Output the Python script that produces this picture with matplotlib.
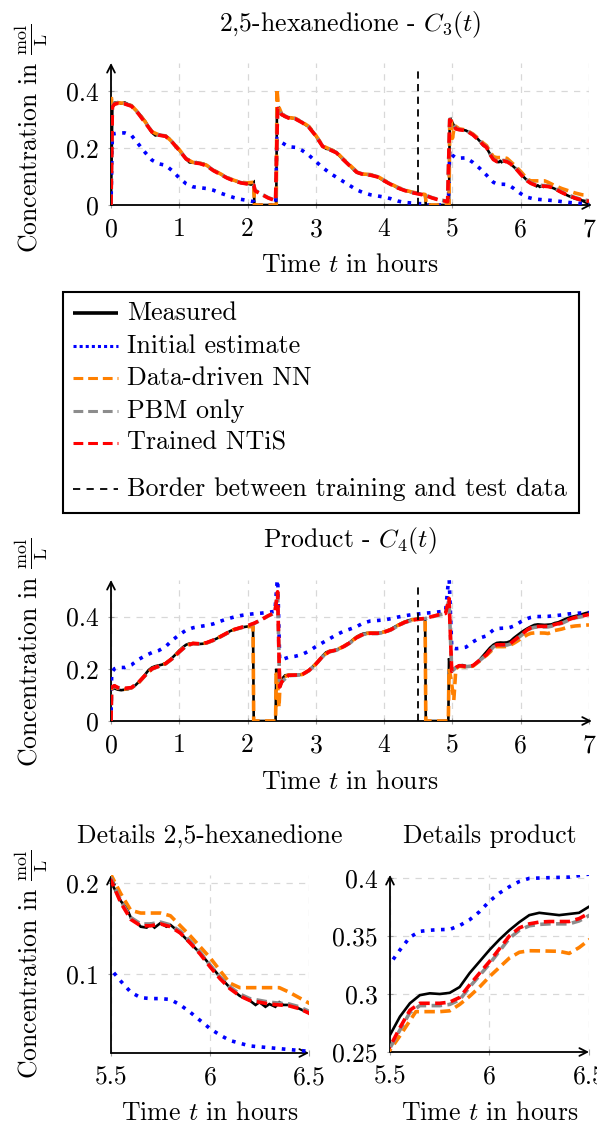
import matplotlib
matplotlib.use("Agg")
import matplotlib.pyplot as plt
from matplotlib.lines import Line2D
from matplotlib.patches import Rectangle
import numpy as np

plt.rcParams['font.family'] = 'serif'
plt.rcParams['font.serif'] = ['cmr10']
plt.rcParams['mathtext.fontset'] = 'cm'
plt.rcParams['axes.formatter.use_mathtext'] = True
plt.rcParams['axes.unicode_minus'] = False

FS = 18.5
LFS = 18.8

# ---------------- data: C3 (2,5-hexanedione) ----------------
c3_measured = [(0.00, 0.0), (0.02, 0.345), (0.05, 0.36), (0.1, 0.362), (0.15, 0.357), (0.2, 0.361),
               (0.25, 0.355), (0.3, 0.35), (0.35, 0.336), (0.4, 0.325), (0.45, 0.31), (0.5, 0.295),
               (0.55, 0.275), (0.6, 0.255), (0.65, 0.245), (0.7, 0.248), (0.75, 0.244), (0.8, 0.243),
               (0.85, 0.235), (0.9, 0.22), (0.95, 0.205), (1.0, 0.193), (1.05, 0.178), (1.1, 0.162),
               (1.15, 0.15), (1.2, 0.149), (1.25, 0.151), (1.3, 0.147), (1.35, 0.146), (1.4, 0.14),
               (1.45, 0.13), (1.5, 0.122), (1.55, 0.117), (1.6, 0.11), (1.65, 0.102), (1.7, 0.096),
               (1.75, 0.09), (1.8, 0.087), (1.85, 0.082), (1.9, 0.078), (1.95, 0.077), (2.0, 0.075),
               (2.05, 0.072), (2.09, 0.08), (2.1, 0.0), (2.42, 0.0), (2.43, 0.33), (2.46, 0.34),
               (2.5, 0.318), (2.55, 0.31), (2.6, 0.309), (2.65, 0.306), (2.7, 0.304), (2.75, 0.298),
               (2.8, 0.29), (2.85, 0.282), (2.9, 0.275), (2.95, 0.26), (3.0, 0.243), (3.05, 0.225),
               (3.1, 0.207), (3.15, 0.198), (3.2, 0.196), (3.25, 0.193), (3.3, 0.185), (3.35, 0.172),
               (3.4, 0.16), (3.45, 0.15), (3.5, 0.138), (3.55, 0.125), (3.6, 0.115), (3.65, 0.11),
               (3.7, 0.108), (3.75, 0.107), (3.8, 0.106), (3.85, 0.103), (3.9, 0.1), (3.95, 0.092),
               (4.0, 0.085), (4.05, 0.078), (4.1, 0.073), (4.15, 0.067), (4.2, 0.06), (4.25, 0.055),
               (4.3, 0.052), (4.35, 0.048), (4.4, 0.045), (4.45, 0.042), (4.5, 0.04), (4.55, 0.037),
               (4.6, 0.035), (4.61, 0.0), (4.95, 0.0), (4.96, 0.29), (4.98, 0.30), (5.02, 0.28),
               (5.06, 0.268), (5.1, 0.266), (5.15, 0.265), (5.2, 0.262), (5.25, 0.255), (5.3, 0.247),
               (5.35, 0.238), (5.4, 0.225), (5.45, 0.21), (5.5, 0.201), (5.55, 0.18), (5.58, 0.172),
               (5.6, 0.162), (5.63, 0.157), (5.65, 0.152), (5.68, 0.151), (5.7, 0.155), (5.72, 0.151),
               (5.75, 0.156), (5.78, 0.152), (5.8, 0.154), (5.85, 0.145), (5.9, 0.134), (5.95, 0.123),
               (6.0, 0.11), (6.05, 0.097), (6.1, 0.085), (6.15, 0.076), (6.2, 0.071), (6.23, 0.066),
               (6.25, 0.069), (6.28, 0.064), (6.3, 0.067), (6.33, 0.064), (6.35, 0.069), (6.37, 0.066),
               (6.4, 0.066), (6.43, 0.064), (6.45, 0.062), (6.5, 0.057), (6.55, 0.05), (6.6, 0.044),
               (6.65, 0.038), (6.7, 0.032), (6.75, 0.027), (6.8, 0.022), (6.85, 0.019), (6.9, 0.016),
               (6.95, 0.014), (7.0, 0.013)]

c3_initial = [(0.0, 0.0), (0.02, 0.25), (0.1, 0.253), (0.2, 0.254), (0.3, 0.245), (0.4, 0.215),
              (0.5, 0.185), (0.6, 0.158), (0.7, 0.145), (0.8, 0.14), (0.9, 0.12), (1.0, 0.095),
              (1.1, 0.075), (1.2, 0.064), (1.3, 0.061), (1.4, 0.058), (1.5, 0.052), (1.6, 0.042),
              (1.7, 0.034), (1.8, 0.026), (1.9, 0.02), (2.0, 0.016), (2.09, 0.012), (2.11, 0.0),
              (2.41, 0.0), (2.43, 0.235), (2.5, 0.22), (2.6, 0.205), (2.7, 0.203), (2.8, 0.192),
              (2.9, 0.175), (3.0, 0.153), (3.1, 0.132), (3.2, 0.113), (3.3, 0.098), (3.4, 0.083),
              (3.5, 0.068), (3.6, 0.053), (3.7, 0.043), (3.8, 0.036), (3.9, 0.032), (4.0, 0.028),
              (4.1, 0.022), (4.2, 0.014), (4.3, 0.009), (4.5, 0.005), (4.6, 0.004), (4.62, 0.0),
              (4.94, 0.0), (4.96, 0.193), (5.0, 0.175), (5.05, 0.166), (5.1, 0.165), (5.2, 0.166),
              (5.3, 0.15), (5.4, 0.129), (5.5, 0.105), (5.55, 0.092), (5.6, 0.08), (5.65, 0.074),
              (5.7, 0.073), (5.75, 0.073), (5.8, 0.072), (5.85, 0.066), (5.9, 0.058), (5.95, 0.049),
              (6.0, 0.04), (6.05, 0.033), (6.1, 0.027), (6.15, 0.024), (6.2, 0.021), (6.3, 0.019),
              (6.4, 0.017), (6.5, 0.015), (6.6, 0.012), (6.7, 0.009), (6.8, 0.007), (6.9, 0.005),
              (7.0, 0.004)]

c3_nn = [(0.0, 0.34), (0.01, 0.375), (0.05, 0.355), (0.1, 0.36), (0.2, 0.358), (0.3, 0.35),
         (0.4, 0.325), (0.5, 0.293), (0.6, 0.258), (0.7, 0.247), (0.8, 0.243), (0.9, 0.222),
         (1.0, 0.195), (1.1, 0.163), (1.2, 0.15), (1.3, 0.148), (1.4, 0.14), (1.5, 0.123),
         (1.6, 0.11), (1.7, 0.097), (1.8, 0.087), (1.9, 0.08), (2.0, 0.078), (2.09, 0.08),
         (2.1, 0.0), (2.42, 0.0), (2.43, 0.41), (2.45, 0.35), (2.5, 0.32), (2.6, 0.308),
         (2.7, 0.305), (2.8, 0.292), (2.9, 0.276), (3.0, 0.245), (3.1, 0.208), (3.2, 0.197),
         (3.3, 0.187), (3.4, 0.162), (3.5, 0.14), (3.6, 0.117), (3.7, 0.109), (3.8, 0.107),
         (3.9, 0.101), (4.0, 0.087), (4.1, 0.074), (4.2, 0.062), (4.3, 0.053), (4.4, 0.046),
         (4.5, 0.041), (4.6, 0.037), (4.62, 0.0), (4.95, 0.0), (4.96, 0.28), (4.98, 0.31),
         (5.0, 0.235), (5.03, 0.28), (5.1, 0.268), (5.2, 0.264), (5.3, 0.25), (5.4, 0.23),
         (5.45, 0.218), (5.5, 0.209), (5.55, 0.188), (5.6, 0.17), (5.65, 0.167), (5.7, 0.167),
         (5.75, 0.167), (5.8, 0.164), (5.85, 0.153), (5.9, 0.142), (5.95, 0.13), (6.0, 0.118),
         (6.05, 0.104), (6.1, 0.09), (6.15, 0.085), (6.2, 0.085), (6.25, 0.085), (6.3, 0.085),
         (6.35, 0.085), (6.4, 0.08), (6.45, 0.074), (6.5, 0.068), (6.6, 0.058), (6.7, 0.05),
         (6.8, 0.042), (6.9, 0.036), (7.0, 0.035)]

c3_pbm = [(0.0, 0.0), (0.02, 0.347), (0.05, 0.357), (0.1, 0.36), (0.2, 0.357), (0.3, 0.349),
          (0.4, 0.323), (0.5, 0.291), (0.6, 0.258), (0.7, 0.247), (0.8, 0.243), (0.9, 0.221),
          (1.0, 0.193), (1.1, 0.163), (1.2, 0.15), (1.3, 0.147), (1.4, 0.139), (1.5, 0.122),
          (1.6, 0.109), (1.7, 0.096), (1.8, 0.086), (1.9, 0.079), (2.0, 0.075), (2.09, 0.071),
          (2.11, 0.052), (2.2, 0.039), (2.3, 0.026), (2.41, 0.016), (2.44, 0.342), (2.5, 0.32),
          (2.6, 0.307), (2.7, 0.304), (2.8, 0.291), (2.9, 0.274), (3.0, 0.244), (3.1, 0.207),
          (3.2, 0.196), (3.3, 0.185), (3.4, 0.161), (3.5, 0.138), (3.6, 0.116), (3.7, 0.108),
          (3.8, 0.106), (3.9, 0.1), (4.0, 0.086), (4.1, 0.073), (4.2, 0.061), (4.3, 0.052),
          (4.4, 0.045), (4.5, 0.04), (4.6, 0.035), (4.7, 0.026), (4.8, 0.019), (4.93, 0.013),
          (4.96, 0.302), (5.0, 0.29), (5.05, 0.27), (5.1, 0.266), (5.2, 0.263), (5.3, 0.248),
          (5.4, 0.226), (5.45, 0.213), (5.5, 0.205), (5.55, 0.18), (5.6, 0.162), (5.65, 0.155),
          (5.7, 0.155), (5.75, 0.157), (5.8, 0.154), (5.85, 0.147), (5.9, 0.136), (5.95, 0.124),
          (6.0, 0.11), (6.05, 0.097), (6.1, 0.086), (6.15, 0.078), (6.2, 0.073), (6.25, 0.071),
          (6.3, 0.069), (6.35, 0.068), (6.4, 0.067), (6.45, 0.064), (6.5, 0.059), (6.6, 0.046),
          (6.7, 0.035), (6.8, 0.026), (6.9, 0.019), (7.0, 0.015)]

c3_trained = [(0.0, 0.0), (0.02, 0.345), (0.05, 0.355), (0.1, 0.358), (0.2, 0.356), (0.3, 0.348),
              (0.4, 0.322), (0.5, 0.29), (0.6, 0.257), (0.7, 0.246), (0.8, 0.242), (0.9, 0.22),
              (1.0, 0.192), (1.1, 0.162), (1.2, 0.149), (1.3, 0.146), (1.4, 0.138), (1.5, 0.121),
              (1.6, 0.108), (1.7, 0.095), (1.8, 0.085), (1.9, 0.078), (2.0, 0.074), (2.09, 0.07),
              (2.11, 0.05), (2.2, 0.038), (2.3, 0.025), (2.41, 0.015), (2.44, 0.34), (2.5, 0.318),
              (2.6, 0.306), (2.7, 0.303), (2.8, 0.29), (2.9, 0.273), (3.0, 0.243), (3.1, 0.206),
              (3.2, 0.195), (3.3, 0.184), (3.4, 0.16), (3.5, 0.137), (3.6, 0.115), (3.7, 0.107),
              (3.8, 0.105), (3.9, 0.099), (4.0, 0.085), (4.1, 0.072), (4.2, 0.06), (4.3, 0.051),
              (4.4, 0.044), (4.5, 0.039), (4.6, 0.034), (4.7, 0.025), (4.8, 0.018), (4.93, 0.012),
              (4.96, 0.30), (5.0, 0.29), (5.05, 0.268), (5.1, 0.265), (5.2, 0.262), (5.3, 0.247),
              (5.4, 0.225), (5.45, 0.212), (5.5, 0.203), (5.55, 0.178), (5.6, 0.16), (5.65, 0.153),
              (5.7, 0.153), (5.75, 0.155), (5.8, 0.152), (5.85, 0.145), (5.9, 0.134), (5.95, 0.122),
              (6.0, 0.108), (6.05, 0.095), (6.1, 0.084), (6.15, 0.076), (6.2, 0.071), (6.25, 0.069),
              (6.3, 0.067), (6.35, 0.066), (6.4, 0.065), (6.45, 0.062), (6.5, 0.057), (6.6, 0.044),
              (6.7, 0.033), (6.8, 0.024), (6.9, 0.017), (7.0, 0.013)]

# ---------------- data: C4 (product) ----------------
c4_measured = [(0.0, 0.12), (0.05, 0.125), (0.1, 0.12), (0.15, 0.118), (0.2, 0.12), (0.25, 0.122),
               (0.3, 0.127), (0.35, 0.135), (0.4, 0.148), (0.45, 0.162), (0.5, 0.178), (0.55, 0.195),
               (0.6, 0.205), (0.65, 0.21), (0.7, 0.213), (0.75, 0.216), (0.8, 0.222), (0.85, 0.232),
               (0.9, 0.243), (0.95, 0.256), (1.0, 0.27), (1.05, 0.282), (1.1, 0.292), (1.15, 0.297),
               (1.2, 0.298), (1.25, 0.297), (1.3, 0.295), (1.35, 0.296), (1.4, 0.3), (1.45, 0.305),
               (1.5, 0.31), (1.55, 0.316), (1.6, 0.323), (1.65, 0.33), (1.7, 0.338), (1.75, 0.345),
               (1.8, 0.35), (1.85, 0.354), (1.9, 0.357), (1.95, 0.36), (2.0, 0.362), (2.05, 0.363),
               (2.08, 0.362), (2.09, 0.0), (2.41, 0.0), (2.42, 0.2), (2.44, 0.14), (2.47, 0.137),
               (2.5, 0.16), (2.55, 0.175), (2.6, 0.177), (2.7, 0.176), (2.8, 0.178), (2.85, 0.185),
               (2.9, 0.195), (2.95, 0.207), (3.0, 0.22), (3.05, 0.233), (3.1, 0.25), (3.15, 0.263),
               (3.2, 0.268), (3.25, 0.27), (3.3, 0.273), (3.35, 0.278), (3.4, 0.285), (3.45, 0.292),
               (3.5, 0.302), (3.55, 0.313), (3.6, 0.323), (3.65, 0.33), (3.7, 0.335), (3.75, 0.337),
               (3.8, 0.337), (3.85, 0.337), (3.9, 0.337), (3.95, 0.338), (4.0, 0.342), (4.05, 0.347),
               (4.1, 0.352), (4.15, 0.36), (4.2, 0.367), (4.25, 0.374), (4.3, 0.38), (4.35, 0.385),
               (4.4, 0.388), (4.45, 0.39), (4.5, 0.391), (4.55, 0.392), (4.6, 0.39), (4.61, 0.0),
               (4.94, 0.0), (4.95, 0.24), (4.97, 0.2), (5.0, 0.195), (5.05, 0.205), (5.1, 0.213),
               (5.15, 0.214), (5.2, 0.21), (5.25, 0.208), (5.3, 0.212), (5.35, 0.222), (5.4, 0.235),
               (5.45, 0.25), (5.5, 0.2647), (5.55, 0.2805), (5.6, 0.292), (5.65, 0.299), (5.7, 0.3006),
               (5.75, 0.3), (5.8, 0.301), (5.85, 0.306), (5.9, 0.318), (5.95, 0.328), (6.0, 0.338),
               (6.05, 0.347), (6.1, 0.355), (6.15, 0.362), (6.2, 0.368), (6.25, 0.37), (6.3, 0.369),
               (6.35, 0.368), (6.4, 0.369), (6.45, 0.37), (6.5, 0.3753), (6.55, 0.378), (6.6, 0.384),
               (6.65, 0.39), (6.7, 0.395), (6.75, 0.399), (6.8, 0.402), (6.85, 0.405), (6.9, 0.409),
               (6.95, 0.413), (7.0, 0.416)]

c4_initial = [(0.0, 0.0), (0.01, 0.185), (0.05, 0.2), (0.1, 0.205), (0.2, 0.205), (0.3, 0.215),
              (0.4, 0.235), (0.5, 0.25), (0.6, 0.262), (0.7, 0.27), (0.8, 0.285), (0.9, 0.31),
              (1.0, 0.33), (1.1, 0.348), (1.2, 0.357), (1.3, 0.362), (1.4, 0.366), (1.5, 0.372),
              (1.6, 0.382), (1.7, 0.391), (1.8, 0.398), (1.9, 0.404), (2.0, 0.408), (2.1, 0.411),
              (2.2, 0.413), (2.3, 0.416), (2.4, 0.42), (2.44, 0.56), (2.47, 0.235), (2.5, 0.235),
              (2.6, 0.244), (2.7, 0.248), (2.8, 0.255), (2.9, 0.268), (3.0, 0.285), (3.1, 0.3),
              (3.2, 0.315), (3.3, 0.33), (3.4, 0.343), (3.5, 0.352), (3.6, 0.362), (3.7, 0.376),
              (3.8, 0.383), (3.9, 0.385), (4.0, 0.387), (4.1, 0.392), (4.2, 0.398), (4.3, 0.403),
              (4.4, 0.407), (4.5, 0.41), (4.6, 0.413), (4.7, 0.415), (4.8, 0.418), (4.9, 0.421),
              (4.95, 0.56), (4.99, 0.28), (5.05, 0.277), (5.1, 0.278), (5.2, 0.283), (5.3, 0.303),
              (5.4, 0.318), (5.5, 0.326), (5.55, 0.338), (5.6, 0.349), (5.65, 0.354), (5.7, 0.355),
              (5.75, 0.3555), (5.8, 0.3557), (5.85, 0.359), (5.9, 0.364), (5.95, 0.371), (6.0, 0.38),
              (6.05, 0.387), (6.1, 0.3925), (6.15, 0.397), (6.2, 0.3997), (6.3, 0.4003), (6.4, 0.4008),
              (6.5, 0.4034), (6.6, 0.406), (6.7, 0.41), (6.8, 0.412), (6.9, 0.414), (7.0, 0.415)]

c4_nn = [(0.0, 0.12), (0.05, 0.135), (0.1, 0.125), (0.2, 0.122), (0.3, 0.127), (0.4, 0.145),
         (0.5, 0.175), (0.6, 0.2), (0.7, 0.21), (0.8, 0.22), (0.9, 0.24), (1.0, 0.266),
         (1.1, 0.29), (1.2, 0.297), (1.3, 0.295), (1.4, 0.299), (1.5, 0.309), (1.6, 0.323),
         (1.7, 0.337), (1.8, 0.35), (1.9, 0.357), (2.0, 0.361), (2.08, 0.362), (2.09, 0.0),
         (2.41, 0.0), (2.42, 0.18), (2.44, 0.14), (2.46, 0.052), (2.48, 0.17), (2.5, 0.165),
         (2.6, 0.176), (2.7, 0.176), (2.8, 0.178), (2.9, 0.194), (3.0, 0.218), (3.1, 0.249),
         (3.2, 0.267), (3.3, 0.272), (3.4, 0.285), (3.5, 0.301), (3.6, 0.321), (3.7, 0.334),
         (3.8, 0.337), (3.9, 0.337), (4.0, 0.341), (4.1, 0.351), (4.2, 0.366), (4.3, 0.379),
         (4.4, 0.387), (4.5, 0.391), (4.6, 0.39), (4.61, 0.0), (4.94, 0.0), (4.95, 0.2),
         (4.98, 0.16), (5.02, 0.08), (5.05, 0.2), (5.1, 0.21), (5.2, 0.206), (5.3, 0.21),
         (5.4, 0.23), (5.45, 0.242), (5.5, 0.2517), (5.55, 0.264), (5.6, 0.277), (5.63, 0.2848),
         (5.7, 0.2848), (5.75, 0.2848), (5.8, 0.2855), (5.85, 0.291), (5.9, 0.298), (5.95, 0.306),
         (6.0, 0.315), (6.05, 0.323), (6.1, 0.331), (6.15, 0.336), (6.2, 0.3373), (6.25, 0.3372),
         (6.3, 0.337), (6.35, 0.3368), (6.4, 0.335), (6.45, 0.34), (6.5, 0.3466), (6.6, 0.352),
         (6.7, 0.36), (6.8, 0.364), (6.9, 0.366), (7.0, 0.368)]

c4_pbm = [(0.0, 0.0), (0.01, 0.128), (0.05, 0.133), (0.1, 0.127), (0.2, 0.124), (0.3, 0.127),
          (0.4, 0.146), (0.5, 0.174), (0.6, 0.199), (0.7, 0.209), (0.8, 0.219), (0.9, 0.239),
          (1.0, 0.264), (1.1, 0.287), (1.2, 0.296), (1.3, 0.295), (1.4, 0.299), (1.5, 0.309),
          (1.6, 0.322), (1.7, 0.336), (1.8, 0.349), (1.9, 0.357), (2.0, 0.364), (2.1, 0.374),
          (2.2, 0.387), (2.3, 0.402), (2.4, 0.414), (2.44, 0.49), (2.47, 0.13), (2.5, 0.15),
          (2.6, 0.174), (2.7, 0.175), (2.8, 0.177), (2.9, 0.193), (3.0, 0.217), (3.1, 0.247),
          (3.2, 0.265), (3.3, 0.271), (3.4, 0.283), (3.5, 0.299), (3.6, 0.319), (3.7, 0.332),
          (3.8, 0.335), (3.9, 0.335), (4.0, 0.339), (4.1, 0.349), (4.2, 0.364), (4.3, 0.377),
          (4.4, 0.385), (4.5, 0.389), (4.6, 0.392), (4.7, 0.399), (4.8, 0.406), (4.9, 0.411),
          (4.95, 0.465), (4.99, 0.19), (5.05, 0.204), (5.1, 0.211), (5.2, 0.208), (5.3, 0.211),
          (5.4, 0.232), (5.45, 0.243), (5.5, 0.2535), (5.55, 0.269), (5.6, 0.284), (5.65, 0.29),
          (5.7, 0.29), (5.75, 0.29), (5.8, 0.291), (5.85, 0.295), (5.9, 0.306), (5.95, 0.316),
          (6.0, 0.326), (6.05, 0.337), (6.1, 0.348), (6.15, 0.355), (6.2, 0.3588), (6.25, 0.36),
          (6.3, 0.3605), (6.35, 0.3605), (6.4, 0.3605), (6.45, 0.363), (6.5, 0.3676), (6.6, 0.374),
          (6.7, 0.386), (6.8, 0.395), (6.9, 0.4), (7.0, 0.406)]

c4_trained = [(0.0, 0.0), (0.01, 0.13), (0.05, 0.135), (0.1, 0.128), (0.2, 0.125), (0.3, 0.128),
              (0.4, 0.147), (0.5, 0.175), (0.6, 0.2), (0.7, 0.21), (0.8, 0.22), (0.9, 0.24),
              (1.0, 0.265), (1.1, 0.288), (1.2, 0.297), (1.3, 0.296), (1.4, 0.3), (1.5, 0.31),
              (1.6, 0.323), (1.7, 0.337), (1.8, 0.35), (1.9, 0.358), (2.0, 0.365), (2.1, 0.375),
              (2.2, 0.388), (2.3, 0.403), (2.4, 0.415), (2.44, 0.495), (2.47, 0.13), (2.5, 0.15),
              (2.6, 0.175), (2.7, 0.176), (2.8, 0.178), (2.9, 0.194), (3.0, 0.218), (3.1, 0.248),
              (3.2, 0.266), (3.3, 0.272), (3.4, 0.284), (3.5, 0.3), (3.6, 0.32), (3.7, 0.333),
              (3.8, 0.336), (3.9, 0.336), (4.0, 0.34), (4.1, 0.35), (4.2, 0.365), (4.3, 0.378),
              (4.4, 0.386), (4.5, 0.39), (4.6, 0.393), (4.7, 0.4), (4.8, 0.407), (4.9, 0.412),
              (4.95, 0.47), (4.99, 0.19), (5.05, 0.205), (5.1, 0.212), (5.2, 0.209), (5.3, 0.212),
              (5.4, 0.233), (5.45, 0.244), (5.5, 0.2546), (5.55, 0.271), (5.6, 0.286), (5.65, 0.292),
              (5.7, 0.292), (5.75, 0.292), (5.8, 0.293), (5.85, 0.297), (5.9, 0.3078), (5.95, 0.318),
              (6.0, 0.328), (6.05, 0.339), (6.1, 0.35), (6.15, 0.357), (6.2, 0.3605), (6.25, 0.362),
              (6.3, 0.3625), (6.35, 0.3625), (6.4, 0.3625), (6.45, 0.365), (6.5, 0.3696), (6.6, 0.376),
              (6.7, 0.388), (6.8, 0.397), (6.9, 0.402), (7.0, 0.408)]

border_time = 4.5

series_labels = ["Measured", "Initial estimate", "Data-driven NN", "PBM only", "Trained NTiS"]
border_label = "Border between training and test data"

main_xticks = [0, 1, 2, 3, 4, 5, 6, 7]
main_xticklabels = ["0", "1", "2", "3", "4", "5", "6", "7"]
main_yticks = [0, 0.2, 0.4]
main_yticklabels = ["0", "0.2", "0.4"]
det_xticks = [5.5, 6, 6.5]
det_xticklabels = ["5.5", "6", "6.5"]
det3_yticks = [0.1, 0.2]
det3_yticklabels = ["0.1", "0.2"]
det4_yticks = [0.25, 0.3, 0.35, 0.4]
det4_yticklabels = ["0.25", "0.3", "0.35", "0.4"]

# ---------------- styles ----------------
W, H = 597, 1126
styles = [
    dict(color="black", lw=1.9, ls="-", zorder=3),
    dict(color="#0000ff", lw=2.6, ls=(0, (1.0, 1.8)), zorder=4),
    dict(color="#ff8000", lw=2.6, ls=(0, (2.9, 1.5)), zorder=5),
    dict(color="#8c8c8c", lw=2.6, ls=(0, (2.9, 1.5)), zorder=6),
    dict(color="#ff0000", lw=2.6, ls=(0, (2.9, 1.5)), zorder=7),
]
legend_styles = [
    dict(color="black", lw=2.6, ls="-"),
    dict(color="#0000ff", lw=2.2, ls=(0, (1.0, 1.0))),
    dict(color="#ff8000", lw=2.2, ls=(0, (3.2, 1.6))),
    dict(color="#8c8c8c", lw=2.2, ls=(0, (3.2, 1.6))),
    dict(color="#ff0000", lw=2.2, ls=(0, (3.2, 1.6))),
]
border_style = dict(color="black", lw=1.3, ls=(0, (4, 3)), zorder=8)

fig = plt.figure(figsize=(W / 100, H / 100), dpi=100)


def px_axes(x0, x1, ytop, ybot):
    return fig.add_axes([x0 / W, 1 - ybot / H, (x1 - x0) / W, (ybot - ytop) / H])


def style_axes(ax, xlim, ylim, xt, xtl, yt, ytl, xarrow=1.0):
    ax.set_xlim(*xlim)
    ax.set_ylim(*ylim)
    ax.set_xticks(xt, labels=xtl)
    ax.set_yticks(yt, labels=ytl)
    for s in ax.spines.values():
        s.set_visible(False)
    ax.set_axisbelow(True)
    ax.grid(True, color="#d8d8d8", lw=0.9, ls=(0, (5, 5)))
    ax.tick_params(axis="both", which="both", direction="inout", length=4, width=0.8,
                   color="#a0a0a0", labelsize=FS, labelcolor="black")
    ax.tick_params(axis="x", pad=7)
    ax.tick_params(axis="y", pad=7)
    ap = dict(arrowstyle="->,head_length=0.55,head_width=0.28", lw=1.3, color="black",
              shrinkA=0, shrinkB=0)
    ax.annotate("", xy=(xarrow, 0), xytext=(0, 0), xycoords="axes fraction",
                textcoords="axes fraction", arrowprops=ap, annotation_clip=False, zorder=2)
    ax.annotate("", xy=(0, 1.0), xytext=(0, 0), xycoords="axes fraction",
                textcoords="axes fraction", arrowprops=ap, annotation_clip=False, zorder=2)


def draw_series(ax, series_list):
    for data, st in zip(series_list, styles):
        arr = np.array(data)
        ax.plot(arr[:, 0], arr[:, 1], color=st["color"], lw=st["lw"], ls=st["ls"],
                zorder=st["zorder"], solid_capstyle="butt", dash_capstyle="butt",
                solid_joinstyle="miter")


c3_all = [c3_measured, c3_initial, c3_nn, c3_pbm, c3_trained]
c4_all = [c4_measured, c4_initial, c4_nn, c4_pbm, c4_trained]

ylab = r"Concentration in $\frac{\mathrm{mol}}{\mathrm{L}}$"

# Top axes
ax1 = px_axes(111, 589, 63, 205)
style_axes(ax1, (0, 7), (0, 0.5), main_xticks, main_xticklabels, main_yticks, main_yticklabels, 1.006)
draw_series(ax1, c3_all)
ax1.plot([border_time, border_time], [0, 0.48], **border_style)
fig.text(350 / W, 1 - 25 / H, r"2,5-hexanedione - $C_3(t)$", ha="center", va="center", fontsize=FS)
fig.text(350 / W, 1 - 265 / H, r"Time $t$ in hours", ha="center", va="center", fontsize=FS)
fig.text(31 / W, 1 - 138 / H, ylab, ha="center", va="center", rotation=90, fontsize=FS)

# Middle axes
ax2 = px_axes(111, 589, 580, 721)
style_axes(ax2, (0, 7), (0, 0.54), main_xticks, main_xticklabels, main_yticks, main_yticklabels, 1.006)
draw_series(ax2, c4_all)
ax2.plot([border_time, border_time], [0, 0.525], **border_style)
fig.text(350 / W, 1 - 540 / H, r"Product - $C_4(t)$", ha="center", va="center", fontsize=FS)
fig.text(350 / W, 1 - 782 / H, r"Time $t$ in hours", ha="center", va="center", fontsize=FS)
fig.text(31 / W, 1 - 652 / H, ylab, ha="center", va="center", rotation=90, fontsize=FS)

# Bottom left
ax3 = px_axes(111, 309, 875, 1053)
style_axes(ax3, (5.5, 6.5), (0.0132, 0.2088), det_xticks, det_xticklabels, det3_yticks, det3_yticklabels)
draw_series(ax3, c3_all)
fig.text(210 / W, 1 - 836 / H, "Details 2,5-hexanedione", ha="center", va="center", fontsize=FS)
fig.text(210 / W, 1 - 1113 / H, r"Time $t$ in hours", ha="center", va="center", fontsize=FS)
fig.text(31 / W, 1 - 964 / H, ylab, ha="center", va="center", rotation=90, fontsize=FS)

# Bottom right
ax4 = px_axes(390, 589, 875, 1052)
style_axes(ax4, (5.5, 6.5), (0.25, 0.4026), det_xticks, det_xticklabels, det4_yticks, det4_yticklabels)
draw_series(ax4, c4_all)
fig.text(490 / W, 1 - 836 / H, "Details product", ha="center", va="center", fontsize=FS)
fig.text(490 / W, 1 - 1113 / H, r"Time $t$ in hours", ha="center", va="center", fontsize=FS)

# Legend box (drawn manually)
fig.add_artist(Rectangle((63 / W, 1 - 513 / H), (579 - 63) / W, (513 - 292) / H,
                         transform=fig.transFigure, fill=False, lw=1.5, edgecolor="black"))
rows = [313, 346, 378, 411, 443]
for lab, st, yy in zip(series_labels, legend_styles, rows):
    fig.add_artist(Line2D([73 / W, 118 / W], [1 - yy / H, 1 - yy / H], transform=fig.transFigure,
                          color=st["color"], lw=st["lw"], ls=st["ls"],
                          solid_capstyle="butt", dash_capstyle="butt"))
    fig.text(127 / W, 1 - yy / H, lab, ha="left", va="center", fontsize=LFS)
fig.add_artist(Line2D([73 / W, 118 / W], [1 - 489 / H, 1 - 489 / H], transform=fig.transFigure,
                      color="black", lw=1.3, ls=(0, (4, 3.5))))
fig.text(127 / W, 1 - 489 / H, border_label, ha="left", va="center", fontsize=LFS)

fig.savefig("out.png", dpi=100)
